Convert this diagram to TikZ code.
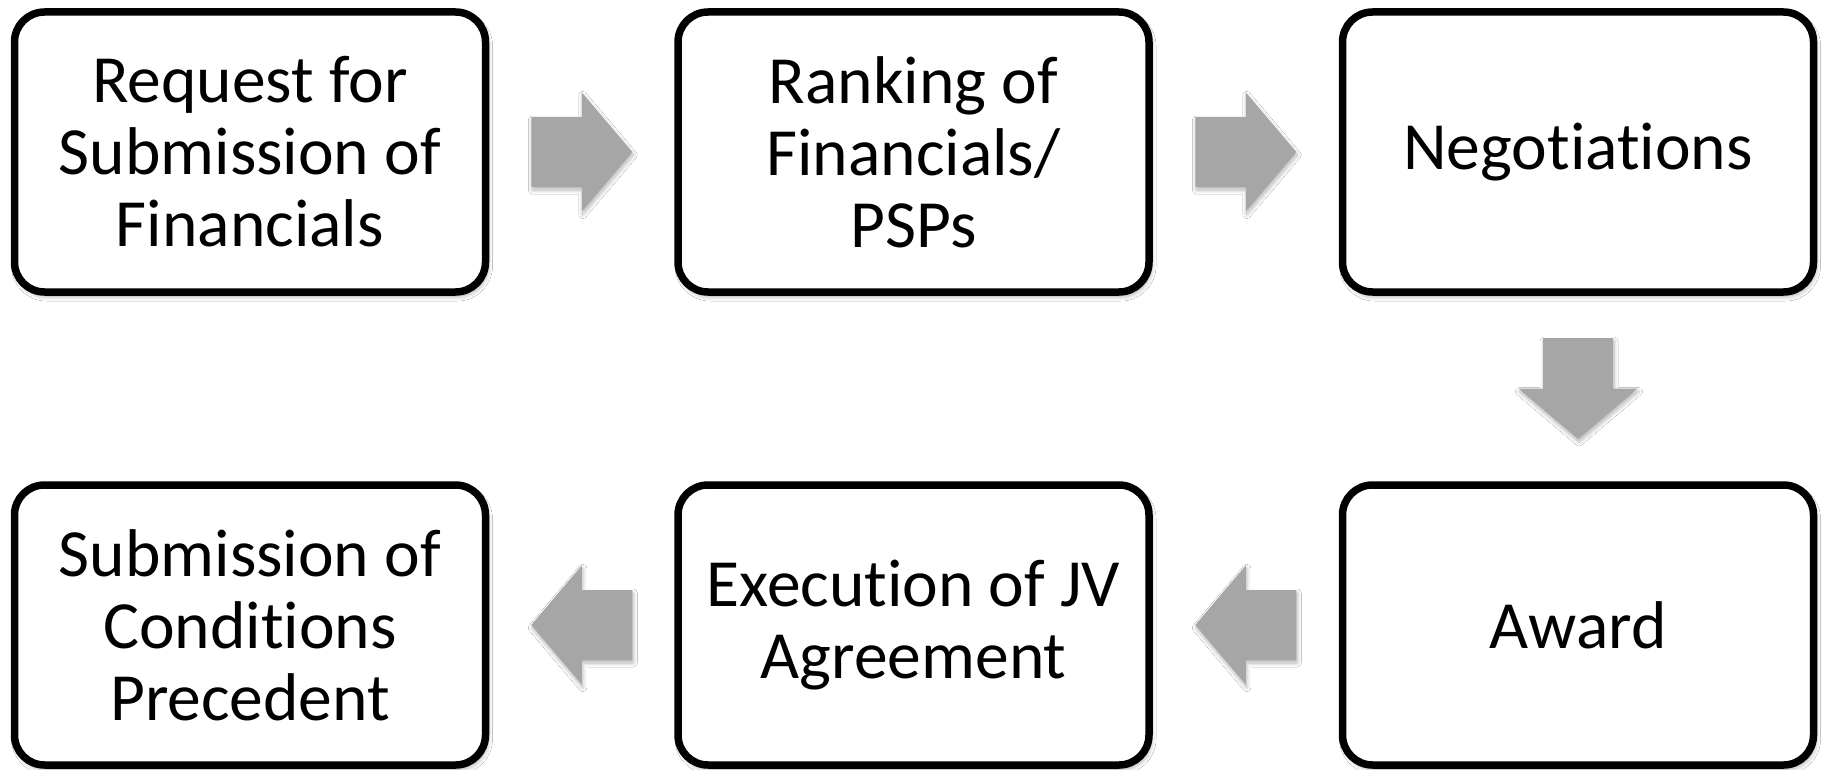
\documentclass[tikz,border=0pt]{standalone}
\usepackage{fontspec}
\setmainfont{Carlito}[Ligatures=NoCommon]
\usetikzlibrary{calc,shadows.blur}
\definecolor{arrowgray}{HTML}{A6A6A6}
\tikzset{
  stepbox/.style={draw=black, line width=7.5pt, fill=white, rounded corners=30pt,
    minimum width=471pt, minimum height=280pt, align=center,
    font=\fontsize{67.5pt}{72pt}\selectfont,
    blur shadow={shadow xshift=2pt, shadow yshift=-4pt, shadow blur steps=8, shadow opacity=35, shadow blur radius=5pt}},
  pics/blockarrow/.style={code={
    \fill[arrowgray, blur shadow={shadow xshift=1pt, shadow yshift=-3pt, shadow blur steps=8, shadow opacity=30, shadow blur radius=4pt}]
      (-50.5pt,-35pt) -- (0pt,-35pt) -- (0pt,-59.5pt) -- (50.5pt,0pt)
      -- (0pt,59.5pt) -- (0pt,35pt) -- (-50.5pt,35pt) -- cycle;
  }}
}
\begin{document}
\begin{tikzpicture}[x=1pt,y=-1pt]
  \useasboundingbox[fill=white] (0,0) rectangle (1825,770);
  % top row
  \node[stepbox] (rfs) at (250,152) {Request for\\Submission of\\Financials};
  \node[stepbox] (rank) at (913.5,152) {Ranking of\\Financials/\\PSPs};
  \node[stepbox] (neg) at (1578,152) {Negotiations};
  % bottom row
  \node[stepbox] (cp) at (250,625) {Submission of\\Conditions\\Precedent};
  \node[stepbox] (jv) at (913.5,625) {Execution of JV\\Agreement};
  \node[stepbox] (award) at (1578,625) {Award};
  % flow arrows between the steps
  \pic at ($(rfs.east)!0.5!(rank.west)$) {blockarrow};
  \pic at ($(rank.east)!0.5!(neg.west)$) {blockarrow};
  \pic[rotate=-90] at ($(neg.south)!0.5!(award.north)$) {blockarrow};
  \pic[rotate=180] at ($(award.west)!0.5!(jv.east)$) {blockarrow};
  \pic[rotate=180] at ($(jv.west)!0.5!(cp.east)$) {blockarrow};
\end{tikzpicture}
\end{document}
